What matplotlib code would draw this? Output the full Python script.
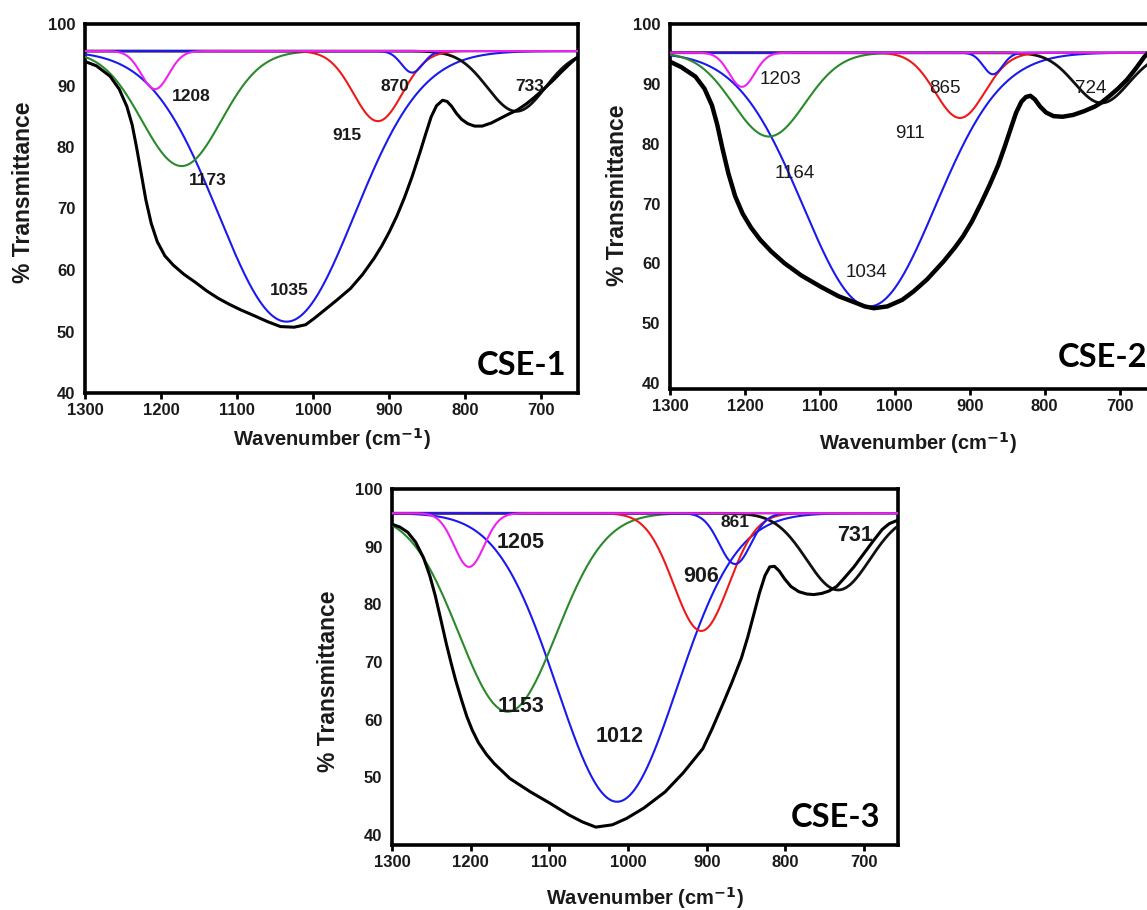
import numpy as np
import matplotlib
matplotlib.use('Agg')
import matplotlib.pyplot as plt

plt.rcParams['font.family'] = ['Liberation Sans', 'DejaVu Sans']

# ---------------- data ----------------
x_ticks = [1300, 1200, 1100, 1000, 900, 800, 700]
y_ticks = [40, 50, 60, 70, 80, 90, 100]
comp_colors_names = ['magenta', 'green', 'blue', 'red', 'blue', 'black']

# CSE-1 measured spectrum
cse1_wn = [1300, 1285, 1267, 1255, 1245, 1238, 1232, 1226, 1220, 1213, 1205, 1195, 1184, 1170,
           1155, 1140, 1125, 1110, 1095, 1080, 1060, 1043, 1025, 1010, 999, 985, 970, 951, 935,
           920, 910, 900, 890, 880, 870, 860, 852, 845, 838, 830, 824, 818, 812, 805, 797, 788,
           778, 766, 755, 744, 732, 720, 710, 698, 685, 673, 662, 652]
cse1_T = [93.9, 93.2, 91.5, 89.4, 86.6, 83.6, 79.8, 75.6, 71.4, 67.6, 64.6, 62.3, 60.8, 59.3,
          58.0, 56.6, 55.4, 54.4, 53.5, 52.7, 51.6, 50.8, 50.7, 51.1, 52.1, 53.5, 55.0, 57.0, 59.3,
          61.9, 63.9, 66.2, 68.8, 71.8, 75.2, 79.0, 82.2, 84.9, 86.7, 87.6, 87.4, 86.6, 85.5, 84.5,
          83.8, 83.4, 83.4, 83.9, 84.6, 85.3, 86.0, 87.0, 88.0, 89.3, 90.8, 92.3, 93.6, 94.7]
# CSE-1 fitted components
cse1_baseline = 95.6
cse1_centers = [1208, 1173, 1035, 915, 870, 733]
cse1_minT = [89.4, 76.9, 51.6, 84.2, 92.1, 85.8]
cse1_sigma = [18, 52, 89, 32, 14, 38]
cse1_labels = ['1208', '1173', '1035', '915', '870', '733']

# CSE-2 measured spectrum
cse2_wn = [1300, 1285, 1266, 1254, 1244, 1237, 1230, 1222, 1213, 1203, 1192, 1180, 1165, 1147,
           1125, 1099, 1075, 1052, 1040, 1028, 1010, 990, 975, 957, 935, 920, 909, 897, 885, 873,
           862, 853, 845, 838, 831, 825, 819, 813, 806, 798, 788, 776, 762, 748, 733, 724, 714,
           702, 690, 678, 667, 658, 650]
cse2_T = [93.7, 92.8, 91.2, 89.2, 86.4, 83.2, 79.2, 75.0, 71.2, 68.3, 66.0, 64.0, 62.0, 60.0,
          58.0, 56.1, 54.5, 53.4, 52.8, 52.5, 52.8, 53.9, 55.3, 57.3, 60.3, 62.6, 64.5, 67.0, 70.0,
          73.2, 76.4, 79.6, 82.6, 85.2, 87.0, 87.8, 88.0, 87.4, 86.2, 85.2, 84.6, 84.5, 84.8, 85.4,
          86.2, 86.9, 87.9, 89.2, 90.7, 92.6, 94.5, 95.6, 96.5]
cse2_baseline = 95.2
cse2_centers = [1204, 1168, 1034, 913, 869, 724]
cse2_minT = [89.5, 81.2, 52.8, 84.3, 91.6, 86.8]
cse2_sigma = [17, 48, 88, 33, 13, 36]
cse2_labels = ['1203', '1164', '1034', '911', '865', '724']

# CSE-3 measured spectrum
cse3_wn = [1300, 1290, 1280, 1270, 1260, 1252, 1245, 1238, 1231, 1225, 1219, 1212, 1205, 1198,
           1190, 1180, 1170, 1150, 1124, 1100, 1075, 1058, 1041, 1020, 1002, 980, 953, 930, 905,
           893, 880, 868, 856, 848, 840, 833, 826, 820, 814, 808, 801, 793, 783, 773, 764, 754,
           745, 735, 725, 713, 701, 689, 677, 668, 659, 652]
cse3_T = [93.9, 93.4, 92.5, 90.8, 88.1, 85.0, 81.5, 77.4, 73.2, 69.9, 66.8, 63.6, 60.6, 58.2,
          56.0, 54.0, 52.4, 49.8, 47.5, 45.6, 43.5, 42.3, 41.4, 41.8, 42.9, 44.7, 47.5, 50.8, 55.0,
          58.5, 62.6, 66.5, 70.7, 74.3, 78.4, 82.0, 85.0, 86.5, 86.6, 85.8, 84.4, 83.1, 82.2, 81.8,
          81.7, 81.9, 82.3, 83.1, 84.6, 86.5, 88.7, 90.9, 93.0, 94.0, 94.5, 94.6]
cse3_baseline = 95.8
cse3_centers = [1202, 1153, 1014, 907, 864, 733]
cse3_minT = [86.5, 61.4, 45.8, 75.4, 87.0, 82.5]
cse3_sigma = [19, 62, 76, 35, 20, 40]
cse3_labels = ['1205', '1153', '1012', '906', '861', '731']

# ---------------- style / layout ----------------
W, H = 1147, 910
colors = {'magenta': '#ee22ee', 'green': '#2a8a2a', 'blue': '#1a1aee',
          'red': '#ee1a1a', 'black': '#111111'}

panels = [
    dict(name='CSE-1', wn=cse1_wn, T=cse1_T, base=cse1_baseline, cen=cse1_centers,
         mn=cse1_minT, sg=cse1_sigma, labels=cse1_labels,
         box=(85, 24, 578, 393), xlim=(1300, 652), ylim=(40, 100), spec_lw=2.2,
         label_weight='bold',
         label_pos=[(1160, 88.2), (1138, 74.5), (1031, 56.7), (956, 81.8), (893, 89.9), (715, 89.9)],
         label_sizes=[12.5] * 6,
         name_pos=(668, 44.4), name_ha='right',
         ylab=(-0.124, 0.545), xlab=(0.5, -0.125)),
    dict(name='CSE-2', wn=cse2_wn, T=cse2_T, base=cse2_baseline, cen=cse2_centers,
         mn=cse2_minT, sg=cse2_sigma, labels=cse2_labels,
         box=(670, 24, 1157, 389), xlim=(1300, 650), ylim=(39, 100), spec_lw=3.2,
         label_weight='normal',
         label_pos=[(1152, 90.7), (1133, 75.0), (1038, 58.4), (980, 81.7), (933, 89.3), (738, 89.3)],
         label_sizes=[13.5] * 6,
         name_pos=(663, 44.3), name_ha='right',
         ylab=(-0.107, 0.53), xlab=(0.51, -0.148)),
    dict(name='CSE-3', wn=cse3_wn, T=cse3_T, base=cse3_baseline, cen=cse3_centers,
         mn=cse3_minT, sg=cse3_sigma, labels=cse3_labels,
         box=(392, 489, 898, 845), xlim=(1300, 657), ylim=(38.3, 100), spec_lw=2.2,
         label_weight='bold',
         label_pos=[(1136, 90.7), (1136, 62.3), (1011, 57.1), (907, 84.9), (864, 94.2), (712, 91.9)],
         label_sizes=[15.5, 15.5, 15.5, 15.5, 12.5, 15.5],
         name_pos=(680, 43.0), name_ha='right',
         ylab=(-0.125, 0.46), xlab=(0.5, -0.149)),
]

fig = plt.figure(figsize=(W / 100, H / 100), dpi=100)

draw_order = [2, 1, 5, 3, 4, 0]

for p in panels:
    l, t, r, b = p['box']
    ax = fig.add_axes([l / W, (H - b) / H, (r - l) / W, (b - t) / H])
    ax.set_xlim(*p['xlim'])
    ax.set_ylim(*p['ylim'])
    x = np.linspace(1300, 640, 700)
    for i in draw_order:
        c, m, s = p['cen'][i], p['mn'][i], p['sg'][i]
        y = p['base'] - (p['base'] - m) * np.exp(-0.5 * ((x - c) / s) ** 2)
        col = colors[comp_colors_names[i]]
        ax.plot(x, y, color=col, lw=1.5 if i != 5 else 2.0, zorder=3)
    ax.plot(p['wn'], p['T'], color='black', lw=p['spec_lw'], zorder=4,
            solid_joinstyle='round')
    for lab, (lx, ly), fs in zip(p['labels'], p['label_pos'], p['label_sizes']):
        ax.text(lx, ly, lab, ha='center', va='center', fontsize=fs,
                fontweight=p['label_weight'], color='#1a1a1a', zorder=5)
    ax.text(p['name_pos'][0], p['name_pos'][1], p['name'], ha=p['name_ha'], va='center',
            fontsize=23.5, fontweight='bold', family=['Lato', 'DejaVu Sans'], color='black',
            zorder=6)
    ax.set_xticks(x_ticks)
    ax.set_yticks(y_ticks)
    ax.tick_params(axis='x', direction='out', length=4, width=2, labelsize=12, pad=3)
    ax.tick_params(axis='y', direction='out', length=0, width=0, labelsize=12, pad=7)
    for lbl in ax.get_xticklabels() + ax.get_yticklabels():
        lbl.set_fontweight('bold')
        lbl.set_color('#1a1a1a')
    for sp in ax.spines.values():
        sp.set_linewidth(2.6)
    ax.set_ylabel('% Transmittance', fontsize=16.5, fontweight='bold', color='#1a1a1a',
                  va='center', ha='center')
    ax.yaxis.set_label_coords(*p['ylab'])
    ax.set_xlabel('Wavenumber (cm$^{\\mathbf{-1}}$)', fontsize=14.5, fontweight='bold',
                  color='#1a1a1a', va='center', ha='center')
    ax.xaxis.set_label_coords(*p['xlab'])

fig.savefig('out.png', dpi=100)
